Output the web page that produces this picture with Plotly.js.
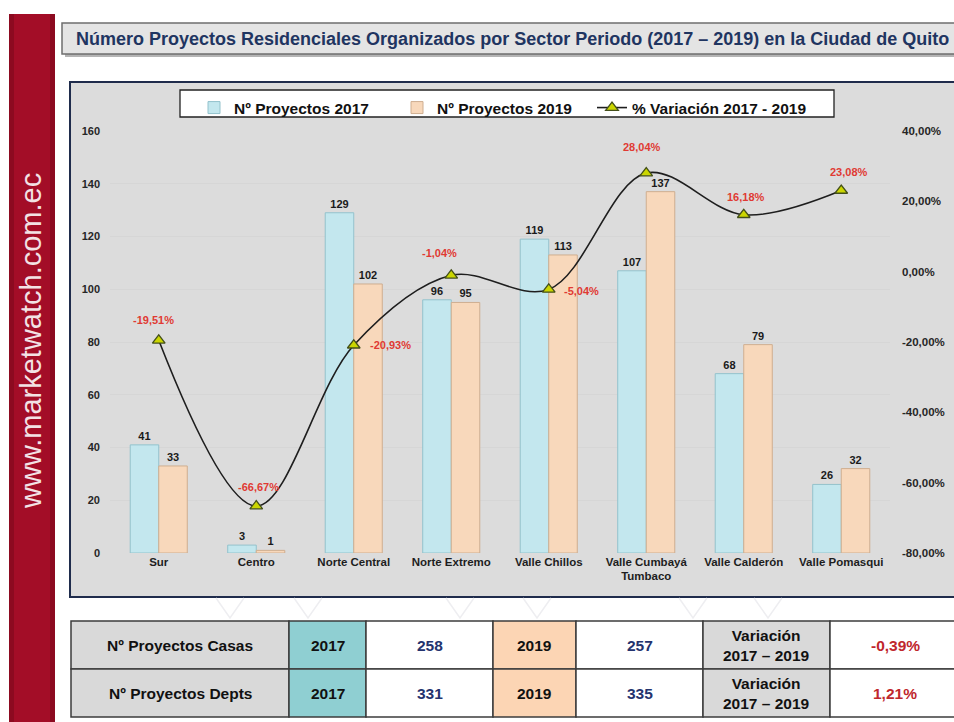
<!DOCTYPE html>
<html>
<head>
<meta charset="utf-8">
<script src="https://cdn.plot.ly/plotly-3.0.1.min.js"></script>
<style>html,body{margin:0;padding:0;background:#fff;}#chart{width:954px;height:722px;}</style>
</head>
<body>
<div id="chart"></div>
<script>
// ---------- data ----------
const categories = ['Sur', 'Centro', 'Norte Central', 'Norte Extremo', 'Valle Chillos', 'Valle Cumbayá<br>Tumbaco', 'Valle Calderón', 'Valle Pomasqui'];
const proyectos2017 = [41, 3, 129, 96, 119, 107, 68, 26];
const proyectos2019 = [33, 1, 102, 95, 113, 137, 79, 32];
const variacion = [-19.51, -66.67, -20.93, -1.04, -5.04, 28.04, 16.18, 23.08];
const leftTickVals = [0, 20, 40, 60, 80, 100, 120, 140, 160];
const rightTickVals = [-80, -60, -40, -20, 0, 20, 40];

const seriesNames = ['Nº Proyectos 2017', 'Nº Proyectos 2019', '% Variación 2017 - 2019'];
const chartTitle = 'Número Proyectos Residenciales Organizados por Sector Periodo (2017 – 2019) en la Ciudad de Quito';
const watermark = 'www.marketwatch.com.ec';

const tableRowLabels = ['Nº Proyectos Casas', 'Nº Proyectos Depts'];
const tableYearA = '2017';
const tableYearB = '2019';
const tableTotals2017 = [258, 331];
const tableTotals2019 = [257, 335];
const tableVariacion = [-0.39, 1.21];
const tableVarLabel = 'Variación<br>2017 – 2019';

// ---------- helpers ----------
const W = 954, H = 722;
const px = x => x / W;
const py = y => 1 - y / H;
const pct = v => v.toFixed(2).replace('.', ',') + '%';
const FONT = 'Liberation Sans, Arial, sans-serif';

// label offsets (style) for the % labels
const labelShift = [[-5, -20], [2, -19], [37, 0], [-12, -22], [33, 2], [-4, -26], [2, -18], [8, -18]];

const traces = [
  {
    type: 'bar', name: seriesNames[0], x: categories, y: proyectos2017, legendwidth: 158,
    marker: {color: '#c3e7ee', line: {color: '#93c2cc', width: 1}},
    text: proyectos2017.map(String), textposition: 'outside', cliponaxis: false,
    textfont: {family: FONT, size: 11, color: '#1a1a1a', weight: 'bold'},
    hoverinfo: 'skip'
  },
  {
    type: 'bar', name: seriesNames[1], x: categories, y: proyectos2019, legendwidth: 150,
    marker: {color: '#f8d8bb', line: {color: '#cfae90', width: 1}},
    text: proyectos2019.map(String), textposition: 'outside', cliponaxis: false,
    textfont: {family: FONT, size: 11, color: '#1a1a1a', weight: 'bold'},
    hoverinfo: 'skip'
  },
  {
    type: 'scatter', mode: 'lines+markers', name: seriesNames[2], x: categories, y: variacion, yaxis: 'y2', legendwidth: 200,
    line: {color: '#1e1e1e', width: 1.6, shape: 'spline', smoothing: 1},
    marker: {symbol: 'triangle-up', size: 11, color: '#cbd600', line: {color: '#44501a', width: 1.3}},
    cliponaxis: false, hoverinfo: 'skip'
  }
];

// ---------- decorations ----------
const shapes = [];
const annotations = [];

// red band
shapes.push({type: 'rect', xref: 'paper', yref: 'paper', x0: px(9), x1: px(55), y0: py(14), y1: py(730), fillcolor: '#a30d27', line: {width: 0}, layer: 'below'});
shapes.push({type: 'rect', xref: 'paper', yref: 'paper', x0: px(9), x1: px(14), y0: py(14), y1: py(730), fillcolor: '#8c0a20', line: {width: 0}, layer: 'below'});
shapes.push({type: 'rect', xref: 'paper', yref: 'paper', x0: px(50), x1: px(55), y0: py(14), y1: py(730), fillcolor: '#8c0a20', line: {width: 0}, layer: 'below'});
annotations.push({xref: 'paper', yref: 'paper', x: px(31), y: py(341), text: watermark, showarrow: false, textangle: -90,
  font: {family: FONT, size: 29, color: '#f3e2e5'}, xanchor: 'center', yanchor: 'middle'});

// title box
shapes.push({type: 'rect', xref: 'paper', yref: 'paper', x0: px(65), x1: px(975), y0: py(26), y1: py(57), fillcolor: '#b4b4b4', line: {width: 0}, layer: 'below'});
shapes.push({type: 'rect', xref: 'paper', yref: 'paper', x0: px(62), x1: px(972), y0: py(23), y1: py(54), fillcolor: '#e4e4e4', line: {color: '#6e6e6e', width: 1.5}, layer: 'below'});
annotations.push({xref: 'paper', yref: 'paper', x: px(74), y: py(39), xanchor: 'left', yanchor: 'middle', showarrow: false,
  text: chartTitle, font: {family: FONT, size: 18, color: '#1f3561', weight: 'bold'}});

// chart box
shapes.push({type: 'rect', xref: 'paper', yref: 'paper', x0: px(70), x1: px(975), y0: py(82), y1: py(597), fillcolor: '#dcdcdc', line: {color: '#1f2c4c', width: 2}, layer: 'below'});
// legend box
shapes.push({type: 'rect', xref: 'paper', yref: 'paper', x0: px(180), x1: px(834), y0: py(90), y1: py(117), fillcolor: '#ffffff', line: {color: '#222222', width: 1.3}, layer: 'below'});

// faint reflection chevrons under the chart box
[230, 308, 460, 537, 693, 768].forEach(cx => {
  shapes.push({type: 'path', xref: 'paper', yref: 'paper', layer: 'below',
    path: `M ${px(cx - 14)} ${py(598)} L ${px(cx)} ${py(618)} L ${px(cx + 14)} ${py(598)}`,
    line: {color: '#eeeef1', width: 1.5}});
});

// % labels
variacion.forEach((v, i) => {
  annotations.push({xref: 'x', yref: 'y2', x: categories[i], y: v, text: pct(v), showarrow: false,
    xshift: labelShift[i][0], yshift: -labelShift[i][1],
    font: {family: FONT, size: 11, color: '#e03a33', weight: 'bold'}});
});

// table
const colW = [218, 77, 127, 83, 127, 127, 130];
const colFill = ['#d9d9d9', '#8fcfd2', '#ffffff', '#fcd5b4', '#ffffff', '#d9d9d9', '#ffffff'];
const tableTop = 621, rowH = 48, tableLeft = 71;
const colX = [tableLeft];
colW.forEach(w => colX.push(colX[colX.length - 1] + w));
tableRowLabels.forEach((lab, r) => {
  const cells = [
    {t: lab, c: '#111111'},
    {t: tableYearA, c: '#111111'},
    {t: String(tableTotals2017[r]), c: '#24336e'},
    {t: tableYearB, c: '#111111'},
    {t: String(tableTotals2019[r]), c: '#24336e'},
    {t: tableVarLabel, c: '#111111'},
    {t: pct(tableVariacion[r]), c: '#c0272d'}
  ];
  const y0 = tableTop + r * rowH, y1 = y0 + rowH;
  cells.forEach((cell, c) => {
    shapes.push({type: 'rect', xref: 'paper', yref: 'paper', x0: px(colX[c]), x1: px(colX[c + 1]), y0: py(y0), y1: py(y1),
      fillcolor: colFill[c], line: {color: '#3c3c3c', width: 1.5}, layer: 'below'});
    annotations.push({xref: 'paper', yref: 'paper', x: px((colX[c] + colX[c + 1]) / 2), y: py((y0 + y1) / 2),
      xanchor: 'center', yanchor: 'middle', showarrow: false, text: cell.t,
      font: {family: FONT, size: 15.5, color: cell.c, weight: 'bold'}});
  });
});

const layout = {
  width: W, height: H,
  margin: {l: 0, r: 0, t: 0, b: 0},
  paper_bgcolor: '#ffffff', plot_bgcolor: '#ffffff',
  separators: ',.',
  barmode: 'group', bargap: 0.415, bargroupgap: 0,
  showlegend: true,
  legend: {orientation: 'h', x: px(194), y: py(91), xanchor: 'left', yanchor: 'top',
    bgcolor: 'rgba(0,0,0,0)', borderwidth: 0,
    font: {family: FONT, size: 15.5, color: '#111111', weight: 'bold'}, traceorder: 'normal'},
  xaxis: {domain: [px(110), px(890)], type: 'category', showgrid: false, showline: false, zeroline: false, ticks: '',
    tickfont: {family: FONT, size: 11.5, color: '#1e1e1e', weight: 'bold'}, fixedrange: true},
  yaxis: {domain: [py(553), py(131)], range: [0, 160], tickvals: leftTickVals, showgrid: true, gridcolor: '#d6d6d6', gridwidth: 1,
    zeroline: false, showline: false, ticks: '', ticklabelstandoff: 9,
    tickfont: {family: FONT, size: 11, color: '#262626', weight: 'bold'}},
  yaxis2: {overlaying: 'y', side: 'right', range: [-80, 40], tickvals: rightTickVals, ticktext: rightTickVals.map(pct),
    showgrid: false, zeroline: false, showline: false, ticks: '', ticklabelstandoff: 11,
    tickfont: {family: FONT, size: 11.5, color: '#262626', weight: 'bold'}},
  shapes: shapes,
  annotations: annotations
};

Plotly.newPlot('chart', traces, layout, {staticPlot: true, displayModeBar: false});
</script>
</body>
</html>
